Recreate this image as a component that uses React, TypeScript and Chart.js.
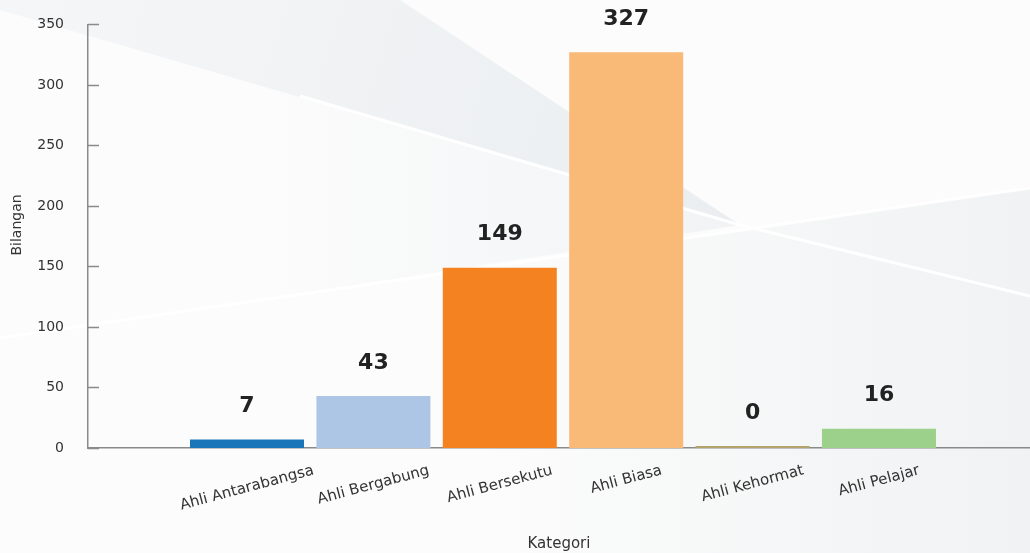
import React, { useEffect, useRef } from 'react';
import { Chart, registerables } from 'chart.js';

Chart.register(...registerables);

const categories = ['Ahli Antarabangsa', 'Ahli Bergabung', 'Ahli Bersekutu', 'Ahli Biasa', 'Ahli Kehormat', 'Ahli Pelajar'];
const counts = [7, 43, 149, 327, 0, 16];
const barColors = ['#1a76b8', '#adc6e6', '#f58220', '#f9ba78', '#b3a46c', '#9bd18a'];
const yTicks = [0, 50, 100, 150, 200, 250, 300, 350];
const yTitle = 'Bilangan';
const xTitle = 'Kategori';

const FONT = "'DejaVu Sans', sans-serif";
const AXIS_COLOR = '#8a8a8a';
const TEXT_COLOR = '#333333';

const backgroundPlugin = {
  id: 'bgShapes',
  beforeDraw(chart: any) {
    const { ctx, width, height } = chart;
    ctx.save();
    ctx.fillStyle = '#fcfcfc';
    ctx.fillRect(0, 0, width, height);
    // soft grey lower-right area
    const g2 = ctx.createLinearGradient(480, 0, 1030, 0);
    g2.addColorStop(0, 'rgba(240,242,243,0)');
    g2.addColorStop(1, 'rgba(240,242,243,1)');
    ctx.fillStyle = g2;
    ctx.beginPath();
    ctx.moveTo(0, 340);
    ctx.lineTo(1030, 188);
    ctx.lineTo(1030, 553);
    ctx.lineTo(0, 553);
    ctx.closePath();
    ctx.fill();
    // faint grey band under the upper streak
    const g3 = ctx.createLinearGradient(250, 0, 740, 0);
    g3.addColorStop(0, 'rgba(240,242,244,0)');
    g3.addColorStop(1, 'rgba(240,242,244,0.9)');
    ctx.fillStyle = g3;
    ctx.beginPath();
    ctx.moveTo(0, 10);
    ctx.lineTo(740, 225);
    ctx.lineTo(0, 340);
    ctx.closePath();
    ctx.fill();
    // upper grey wedge
    const g1 = ctx.createLinearGradient(0, 0, 740, 225);
    g1.addColorStop(0, '#f5f6f7');
    g1.addColorStop(1, '#eaeef0');
    ctx.fillStyle = g1;
    ctx.beginPath();
    ctx.moveTo(0, 0);
    ctx.lineTo(400, 0);
    ctx.lineTo(740, 225);
    ctx.lineTo(0, 10);
    ctx.closePath();
    ctx.fill();
    // white light streaks
    ctx.strokeStyle = 'rgba(255,255,255,0.95)';
    ctx.lineWidth = 3;
    ctx.beginPath();
    ctx.moveTo(300, 96);
    ctx.lineTo(740, 225);
    ctx.lineTo(1030, 296);
    ctx.stroke();
    ctx.beginPath();
    ctx.moveTo(0, 338);
    ctx.lineTo(1030, 188);
    ctx.stroke();
    ctx.restore();
  },
};

const axisDecorPlugin = {
  id: 'axisDecor',
  afterDraw(chart: any) {
    const { ctx } = chart;
    const y = chart.scales.y;
    const left = chart.chartArea.left;
    ctx.save();
    ctx.strokeStyle = AXIS_COLOR;
    ctx.lineWidth = 1.5;
    yTicks.forEach((v) => {
      const py = Math.round(y.getPixelForValue(v)) + 0.5;
      ctx.beginPath();
      ctx.moveTo(left, py);
      ctx.lineTo(left + 11, py);
      ctx.stroke();
    });
    // y axis title
    ctx.font = `14px ${FONT}`;
    ctx.fillStyle = TEXT_COLOR;
    ctx.textAlign = 'center';
    ctx.textBaseline = 'middle';
    ctx.translate(17, 225);
    ctx.rotate(-Math.PI / 2);
    ctx.fillText(yTitle, 0, 0);
    ctx.restore();
  },
};

const xLabelsPlugin = {
  id: 'xLabels',
  afterDraw(chart: any) {
    const { ctx } = chart;
    const x = chart.scales.x;
    const angle = (15 * Math.PI) / 180;
    const size = 15;
    ctx.save();
    ctx.font = `${size}px ${FONT}`;
    ctx.fillStyle = TEXT_COLOR;
    ctx.textAlign = 'center';
    ctx.textBaseline = 'middle';
    categories.forEach((label, i) => {
      const px = x.getPixelForValue(i);
      const w = ctx.measureText(label).width;
      const bboxH = w * Math.sin(angle) + size * Math.cos(angle);
      const cy = 463 + bboxH / 2;
      ctx.save();
      ctx.translate(px, cy);
      ctx.rotate(-angle);
      ctx.fillText(label, 0, 0);
      ctx.restore();
    });
    ctx.restore();
  },
};

const valueLabelsPlugin = {
  id: 'valueLabels',
  afterDatasetsDraw(chart: any) {
    const { ctx } = chart;
    const meta = chart.getDatasetMeta(0);
    ctx.save();
    ctx.font = `bold 22px ${FONT}`;
    ctx.fillStyle = '#222222';
    ctx.textAlign = 'center';
    ctx.textBaseline = 'middle';
    meta.data.forEach((bar: any, i: number) => {
      ctx.fillText(String(counts[i]), bar.x, bar.y - 33);
    });
    ctx.restore();
  },
};

export default function App() {
  const canvasRef = useRef<HTMLCanvasElement | null>(null);

  useEffect(() => {
    if (!canvasRef.current) return;
    const chart = new Chart(canvasRef.current, {
      type: 'bar',
      data: {
        datasets: [
          {
            data: categories.map((_, i) => ({ x: i, y: counts[i] })),
            backgroundColor: barColors,
            borderWidth: 0,
            barPercentage: 0.902,
            categoryPercentage: 1,
            minBarLength: 2,
          },
        ],
      },
      options: {
        animation: false,
        responsive: false,
        devicePixelRatio: 1,
        layout: { padding: { top: 22, right: 0, left: 0, bottom: 0 } },
        plugins: {
          legend: { display: false },
          tooltip: { enabled: false },
        },
        scales: {
          x: {
            type: 'linear',
            offset: false,
            min: -1.258,
            max: 6.195,
            grid: { display: false, offset: false },
            border: { display: true, color: AXIS_COLOR, width: 1.5 },
            ticks: { display: false },
            afterBuildTicks: (s: any) => {
              s.ticks = categories.map((_, i) => ({ value: i }));
            },
            afterFit: (s: any) => {
              s.height = 105;
            },
            title: {
              display: true,
              text: xTitle,
              color: TEXT_COLOR,
              font: { family: FONT, size: 15 },
              padding: { top: 0, bottom: 0 },
            },
          },
          y: {
            min: 0,
            max: 350,
            grid: { display: false },
            border: { display: true, color: AXIS_COLOR, width: 1.5 },
            ticks: {
              stepSize: 50,
              padding: 16,
              color: TEXT_COLOR,
              font: { family: FONT, size: 14 },
            },
            afterBuildTicks: (s: any) => {
              s.ticks = yTicks.map((v) => ({ value: v }));
            },
            afterFit: (s: any) => {
              s.width = 88;
            },
            title: { display: false, text: yTitle },
          },
        },
      } as any,
      plugins: [backgroundPlugin, axisDecorPlugin, xLabelsPlugin, valueLabelsPlugin],
    });
    return () => chart.destroy();
  }, []);

  return (
    <div style={{ position: 'absolute', left: 0, top: 0, width: 1030, height: 553, overflow: 'hidden' }}>
      <canvas ref={canvasRef} width={1030} height={553} style={{ display: 'block', width: 1030, height: 553 }} />
    </div>
  );
}
